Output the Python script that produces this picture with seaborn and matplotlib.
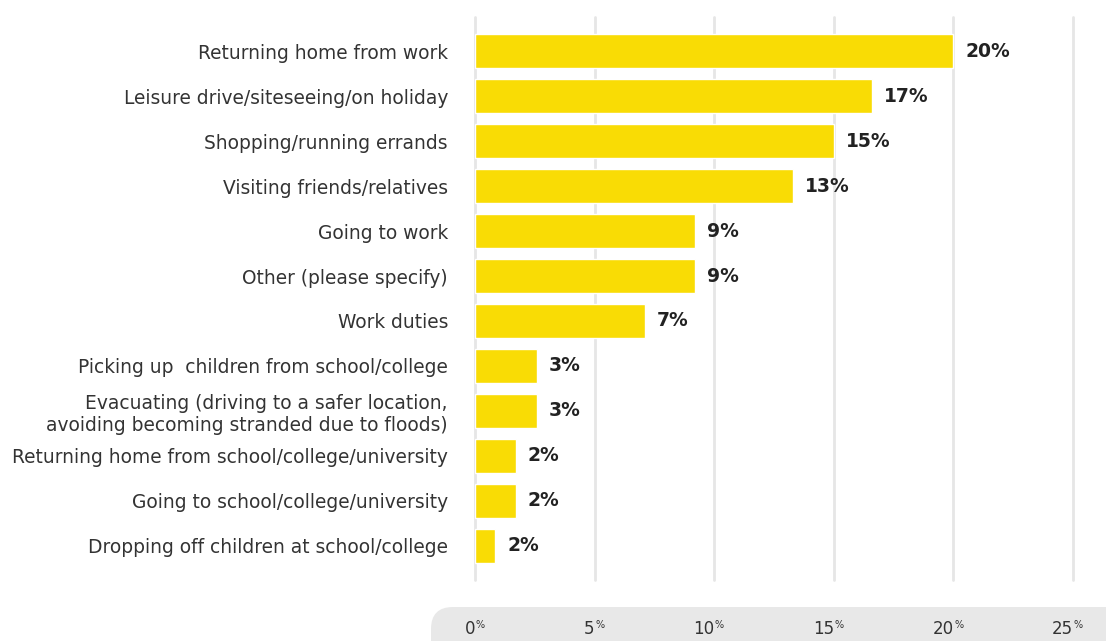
import pandas as pd
import numpy as np
import matplotlib
matplotlib.use("Agg")
import matplotlib.pyplot as plt
import seaborn as sns
from matplotlib.patches import FancyBboxPatch
from matplotlib.transforms import IdentityTransform

# motivos da viagem (ordem do grafico)
motivos = [
    "Returning home from work",
    "Leisure drive/siteseeing/on holiday",
    "Shopping/running errands",
    "Visiting friends/relatives",
    "Going to work",
    "Other (please specify)",
    "Work duties",
    "Picking up  children from school/college",
    "Evacuating (driving to a safer location,\navoiding becoming stranded due to floods)",
    "Returning home from school/college/university",
    "Going to school/college/university",
    "Dropping off children at school/college",
]
valores = [20.0, 16.6, 15.0, 13.3, 9.2, 9.2, 7.1, 2.6, 2.6, 1.7, 1.7, 0.85]
rotulos = ["20%", "17%", "15%", "13%", "9%", "9%", "7%", "3%", "3%", "2%", "2%", "2%"]
ticks = [0, 5, 10, 15, 20, 25]

AMARELO = "#F9DC05"
W, H = 1106, 641

sns.set_style("white")
plt.rcParams['font.family'] = ['DejaVu Sans']

df = pd.DataFrame({'motivo': motivos, 'valor': valores})

fig = plt.figure(figsize=(W / 100, H / 100), dpi=100)
ax = fig.add_axes([475 / W, 1 - 580 / H, (1073 - 475) / W, (580 - 17) / H])

sns.barplot(data=df, x='valor', y='motivo', color=AMARELO, width=0.75,
            saturation=1, ax=ax, zorder=3)

ax.set_xlim(0, 25)
ax.set_ylim(11.756, -0.756)
for t in ticks:
    ax.axvline(t, color="#e6e6e6", lw=2, zorder=1, clip_on=False)
for s in ax.spines.values():
    s.set_visible(False)

ax.set_xlabel("")
ax.set_ylabel("")
ax.tick_params(axis='y', length=0, pad=19.5, labelsize=13.4, labelcolor="#333333")
for lbl in ax.get_yticklabels():
    lbl.set_multialignment('right')

# rotulos dos valores
for i, (v, r) in enumerate(zip(valores, rotulos)):
    ax.annotate(r, (v, i), xytext=(8.5, 0), textcoords='offset points',
                va='center', ha='left', fontsize=13.5, fontweight='bold', color="#222222")

# eixo x dentro da "pilula" cinza
ax.set_xticks(ticks, labels=[str(t) for t in ticks])
ax.tick_params(axis='x', length=0, pad=29, labelsize=12, labelcolor="#333333")
for lbl in ax.get_xticklabels():
    lbl.set_ha('right')
for t in ticks:
    ax.annotate("%", (t, 0), xycoords=('data', 'axes fraction'), xytext=(0.5, -29),
                textcoords='offset points', ha='left', va='top', fontsize=7,
                color="#333333", annotation_clip=False)

pilula = FancyBboxPatch((431, -30), 760, 64, boxstyle="round,pad=0,rounding_size=22",
                        transform=IdentityTransform(), facecolor="#e8e8e8",
                        edgecolor="none", zorder=-1)
fig.patches.append(pilula)

fig.savefig("out.png", dpi=100)
